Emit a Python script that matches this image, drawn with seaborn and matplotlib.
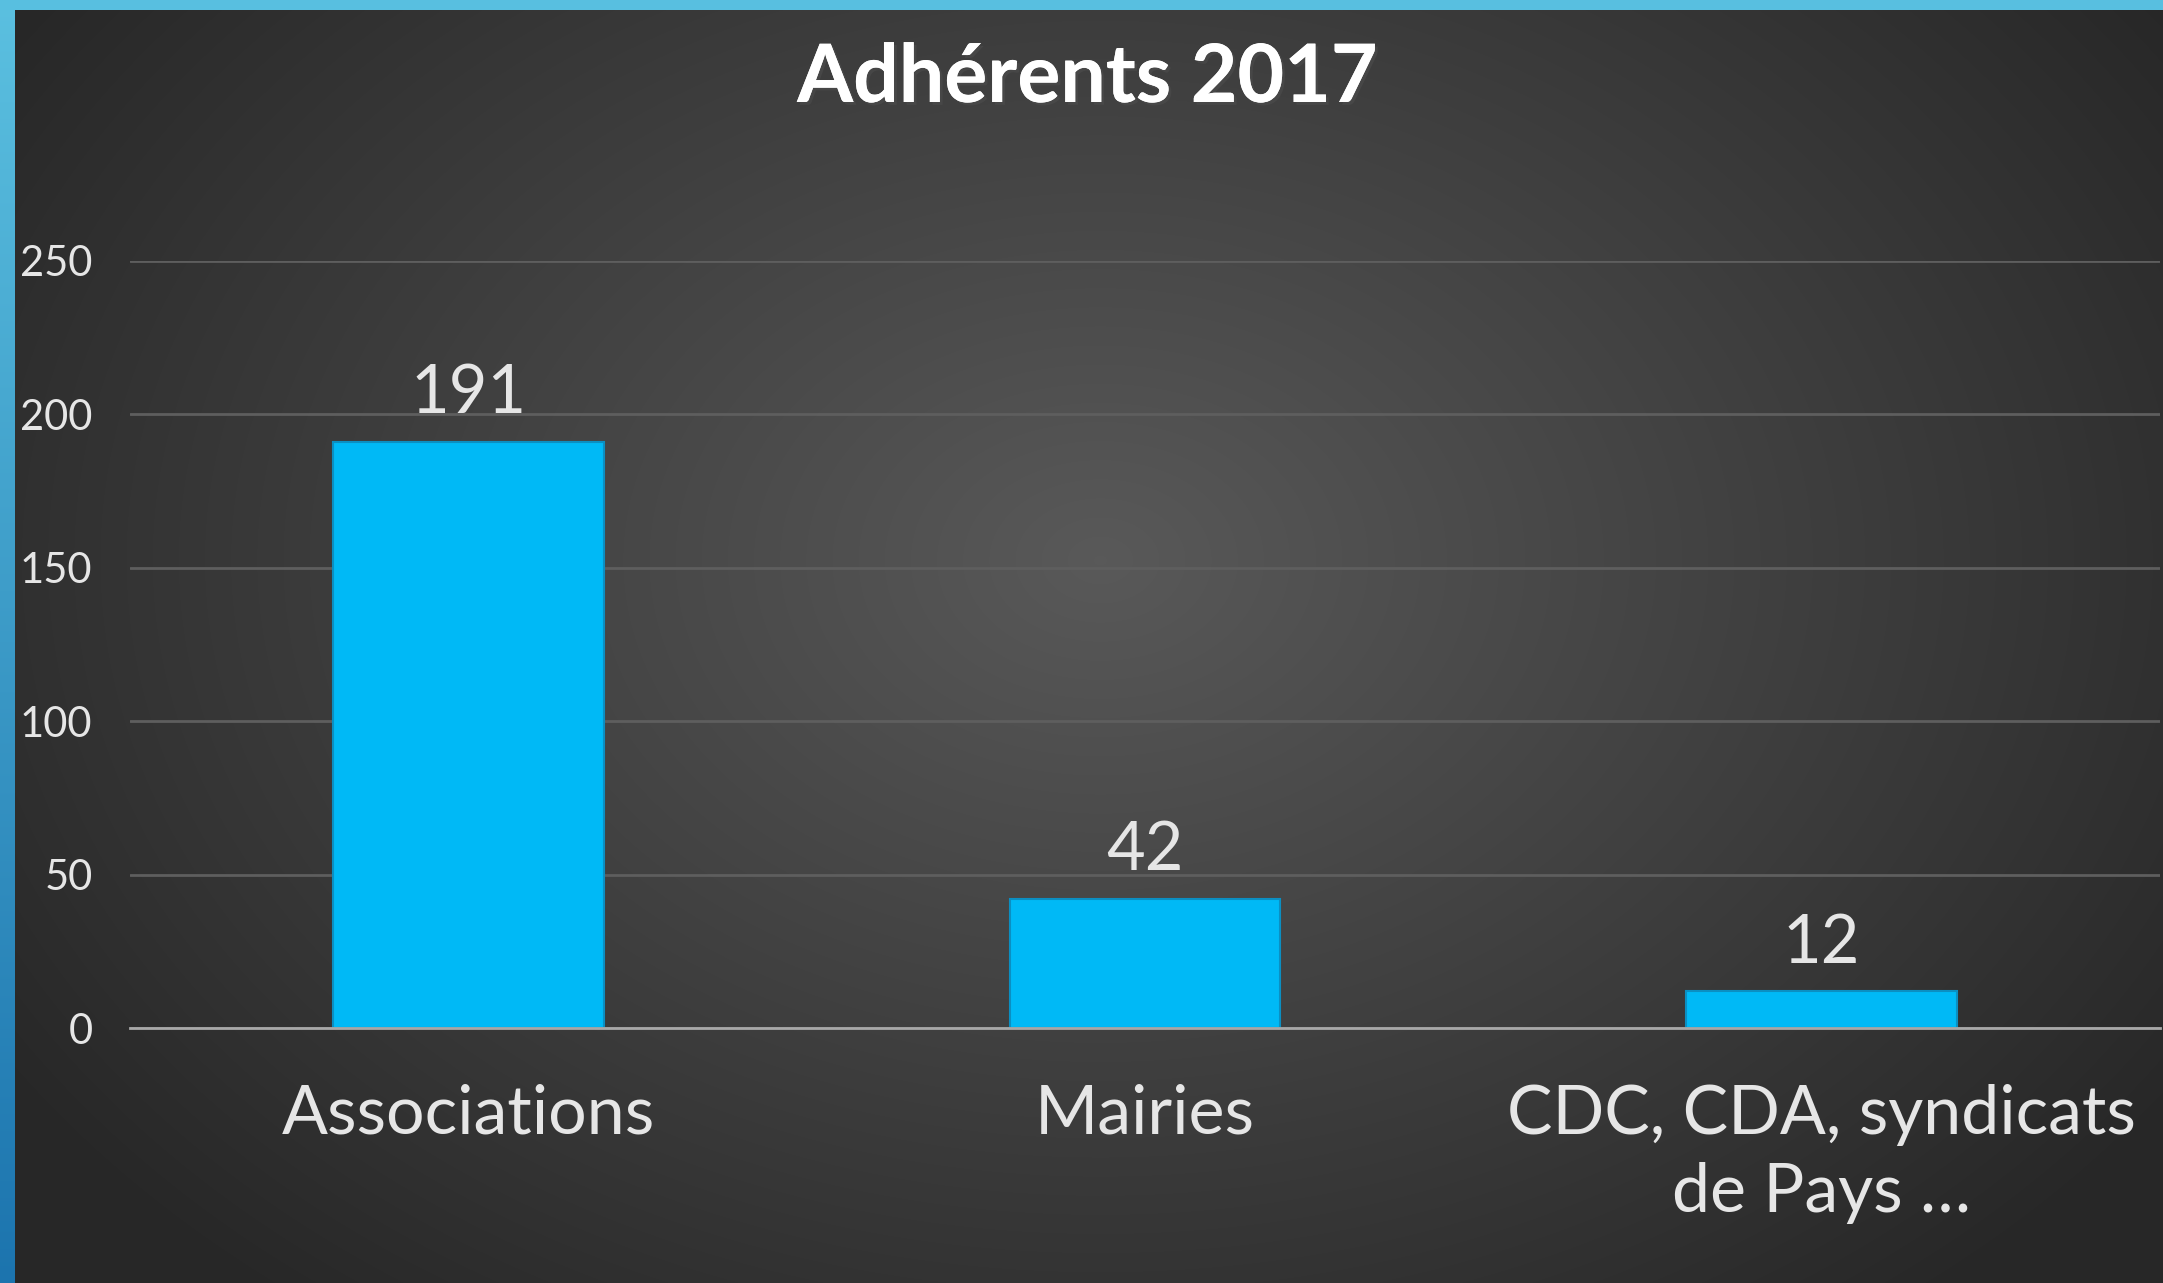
import numpy as np
import matplotlib
matplotlib.use("Agg")
import matplotlib.pyplot as plt
import matplotlib.patheffects as pe
from matplotlib.patches import Rectangle
import seaborn as sns

# ---- data ----
categories = ["Associations", "Mairies", "CDC, CDA, syndicats\nde Pays …"]
values = [191, 42, 12]
yticks = [0, 50, 100, 150, 200, 250]
title = "Adhérents 2017"

sns.set_style("dark")
plt.rcParams["font.family"] = ["Lato", "DejaVu Sans"]

W, H = 2163, 1283
fig = plt.figure(figsize=(W / 100, H / 100), dpi=100)

# ---- background: radial gradient + blue frame strips ----
bg = fig.add_axes([0, 0, 1, 1], zorder=0)
bg.axis("off")
yy, xx = np.mgrid[0:H, 0:W]
d = np.sqrt(((xx - 1100) / 1300) ** 2 + ((yy - 560) / 950) ** 2)
v = 0.35 - (0.35 - 0.155) * np.clip(d, 0, 1)
bg.imshow(np.dstack([v, v, v]), extent=[0, W, H, 0], aspect="auto", interpolation="bilinear")
top_c = np.array([0x5b, 0xc0, 0xe0]) / 255
bot_c = np.array([0x1c, 0x74, 0xae]) / 255
t = np.linspace(0, 1, H)[:, None, None]
strip = top_c[None, None, :] * (1 - t) + bot_c[None, None, :] * t
bg.imshow(strip, extent=[0, 15, H, 0], aspect="auto")
bg.add_patch(Rectangle((0, 0), W, 10, color="#58bfe0", lw=0))
bg.set_xlim(0, W)
bg.set_ylim(H, 0)

# ---- main chart ----
ax = fig.add_axes([130 / W, 255 / H, (2160 - 130) / W, (1028 - 261) / H], zorder=1)
ax.patch.set_alpha(0)
sns.barplot(x=categories, y=values, color="#00b9f6", saturation=1, width=0.4,
            edgecolor="#0b8fc2", linewidth=1.5, ax=ax, zorder=3)
ax.set_xlim(-0.5, 2.5)
ax.set_ylim(0, 250)
ax.set_yticks(yticks)
ax.set_xlabel("")
ax.set_ylabel("")
ax.grid(False)
ax.yaxis.grid(True, color="#5e5e5e", lw=2)
ax.set_axisbelow(True)
for s in ["left", "right", "top"]:
    ax.spines[s].set_visible(False)
ax.spines["bottom"].set_visible(True)
ax.spines["bottom"].set_color("#a8a8a8")
ax.spines["bottom"].set_linewidth(2)
ax.spines["bottom"].set_zorder(4)

ax.tick_params(axis="y", length=0, pad=27, labelsize=30, labelcolor="#e6e6e6")
ax.tick_params(axis="x", which="major", length=0, pad=40, labelsize=49, labelcolor="#e6e6e6")
ax.set_xticks([-0.5, 0.5, 1.5, 2.5], minor=True)
ax.tick_params(axis="x", which="minor", length=11, width=1.5, color="#a8a8a8", direction="out")
for lab in ax.get_xticklabels():
    lab.set_linespacing(1.32)

ax.bar_label(ax.containers[0], padding=12, fontsize=48, color="#e6e6e6")

fig.text(1087 / W, 1 - 79 / H, title, ha="center", va="center", fontsize=58,
         fontweight="bold", color="white",
         path_effects=[pe.withSimplePatchShadow(offset=(2, -2), alpha=0.6), pe.Normal()])

fig.savefig("out.png", dpi=100)
